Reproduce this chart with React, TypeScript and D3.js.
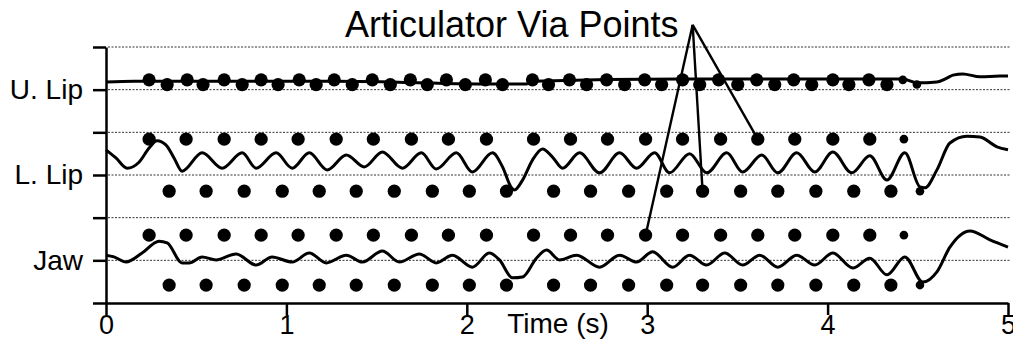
import { useEffect, useRef } from 'react';
import * as d3 from 'd3';

const W = 1013;
const H = 340;
const FONT = '"Liberation Sans", Arial, Helvetica, sans-serif';

// axes
const TIME_TICKS = [0, 1, 2, 3, 4, 5];
const ROW_TICKS = [0, 1, 2, 3, 4, 5, 6];
const ROW_LABELS: Record<number, string> = { 1: 'Jaw', 3: 'L. Lip', 5: 'U. Lip' };

// traces: [time (s), row position]
const U_LIP: [number, number][] = [
  [0, 5.18], [0.155, 5.2], [0.239, 5.2], [1.265, 5.2], [2.198, 5.13], [2.331, 5.13],
  [2.364, 5.2], [3.196, 5.25], [4.417, 5.25], [4.495, 5.16], [4.606, 5.18], [4.661, 5.27],
  [4.695, 5.34], [4.75, 5.37], [4.845, 5.3], [4.956, 5.32], [5.0, 5.32],
];

const L_LIP: [number, number][] = [
  [0, 3.59], [0.055, 3.4], [0.117, 3.16], [0.183, 3.3], [0.239, 3.63], [0.283, 3.8],
  [0.333, 3.7], [0.377, 3.4], [0.422, 3.09], [0.533, 3.52], [0.644, 3.16], [0.755, 3.52],
  [0.832, 3.16], [0.943, 3.52], [1.032, 3.16], [1.127, 3.52], [1.226, 3.12], [1.332, 3.47],
  [1.432, 3.19], [1.532, 3.54], [1.643, 3.16], [1.748, 3.52], [1.831, 3.14], [1.942, 3.52],
  [2.031, 3.07], [2.142, 3.52], [2.198, 3.19], [2.248, 2.7], [2.264, 2.65], [2.309, 2.88],
  [2.364, 3.35], [2.42, 3.61], [2.475, 3.42], [2.531, 3.16], [2.625, 3.52], [2.736, 3.05],
  [2.847, 3.52], [2.941, 3.16], [3.041, 3.52], [3.124, 3.05], [3.235, 3.5], [3.33, 3.05],
  [3.441, 3.52], [3.529, 3.07], [3.635, 3.47], [3.724, 3.05], [3.829, 3.52], [3.929, 3.07],
  [4.029, 3.54], [4.134, 3.05], [4.234, 3.45], [4.329, 2.88], [4.428, 3.52], [4.512, 2.72],
  [4.539, 2.7], [4.606, 3.12], [4.678, 3.75], [4.772, 3.91], [4.845, 3.89], [4.939, 3.66],
  [5.0, 3.59],
];

const JAW: [number, number][] = [
  [0, 1.12], [0.044, 1.08], [0.111, 0.96], [0.2, 1.17], [0.294, 1.45], [0.339, 1.41],
  [0.422, 0.94], [0.461, 0.94], [0.533, 1.08], [0.61, 1.01], [0.721, 1.15], [0.832, 0.89],
  [0.921, 1.08], [1.032, 0.96], [1.127, 1.17], [1.221, 0.94], [1.332, 1.12], [1.421, 0.96],
  [1.532, 1.22], [1.626, 0.96], [1.737, 1.15], [1.831, 0.94], [1.92, 1.12], [2.031, 0.84],
  [2.125, 1.17], [2.181, 1.01], [2.253, 0.59], [2.309, 0.61], [2.386, 1.05], [2.442, 1.24],
  [2.514, 1.01], [2.608, 1.12], [2.736, 0.84], [2.847, 1.12], [2.941, 0.96], [3.03, 1.2],
  [3.141, 0.84], [3.235, 1.12], [3.329, 0.89], [3.43, 1.17], [3.529, 0.89], [3.624, 1.12],
  [3.724, 0.84], [3.829, 1.12], [3.929, 0.89], [4.029, 1.17], [4.14, 0.82], [4.234, 1.05],
  [4.329, 0.66], [4.428, 1.08], [4.528, 0.49], [4.606, 0.73], [4.678, 1.31], [4.789, 1.69],
  [4.9, 1.48], [5.0, 1.31],
];

// via points (times in s); last one in each row is drawn smaller
const U_LIP_HIGH_T = [
  0.239, 0.45, 0.655, 0.86, 1.071, 1.265, 1.476, 1.687, 1.887, 2.103, 2.364,
  2.569, 2.775, 2.986, 3.196, 3.396, 3.607, 3.812, 4.029, 4.229, 4.417,
];
const U_LIP_LOW_T = [
  0.339, 0.538, 0.755, 0.954, 1.165, 1.365, 1.576, 1.781, 1.992, 2.198, 2.453,
  2.664, 2.875, 3.08, 3.291, 3.502, 3.707, 3.912, 4.118, 4.329, 4.495,
];
const UPPER_T = [
  0.239, 0.444, 0.655, 0.86, 1.065, 1.276, 1.482, 1.693, 1.898, 2.109, 2.37,
  2.575, 2.78, 2.991, 3.196, 3.407, 3.613, 3.818, 4.029, 4.234, 4.423,
];
const LOWER_T = [
  0.35, 0.555, 0.766, 0.977, 1.182, 1.387, 1.598, 1.809, 2.014, 2.22, 2.481,
  2.686, 2.897, 3.108, 3.307, 3.518, 3.724, 3.935, 4.145, 4.351, 4.512,
];

// row positions of each via point series
const DOT_ROWS = [
  { times: U_LIP_HIGH_T, level: 5.23 },
  { times: U_LIP_LOW_T, level: 5.12 },
  { times: UPPER_T, level: 3.84 },
  { times: LOWER_T, level: 2.62 },
  { times: UPPER_T, level: 1.59 },
  { times: LOWER_T, level: 0.42 },
];

// annotation: apex and the three dots it points at
const POINTER_APEX: [number, number] = [3.252, 6.52];
const POINTER_TARGETS: [number, number][] = [
  [UPPER_T[13], 1.59],
  [LOWER_T[14], 2.62],
  [UPPER_T[16], 3.84],
];

export default function App() {
  const svgRef = useRef<SVGSVGElement>(null);

  useEffect(() => {
    const svg = d3.select(svgRef.current);
    svg.selectAll('*').remove();

    const x = d3.scaleLinear().domain([0, 5]).range([106, 1008]);
    const y = d3.scaleLinear().domain([0, 6]).range([303, 47]);

    // dotted guide lines
    svg.append('g')
      .selectAll('line')
      .data(ROW_TICKS.filter((d) => d > 0))
      .join('line')
      .attr('x1', x(0) + 2)
      .attr('x2', x(5) + 2)
      .attr('y1', (d) => y(d))
      .attr('y2', (d) => y(d))
      .attr('stroke', '#333')
      .attr('stroke-width', 1)
      .attr('stroke-dasharray', '2 1.5');

    // x axis
    const xAxis = svg.append('g')
      .attr('transform', `translate(0,${y(0)})`)
      .call(d3.axisBottom(x).tickValues(TIME_TICKS).tickSize(12).tickSizeOuter(0).tickPadding(0).tickFormat(d3.format('d')));

    // y axis
    const yAxis = svg.append('g')
      .attr('transform', `translate(${x(0)},0)`)
      .call(d3.axisLeft(y).tickValues(ROW_TICKS).tickSize(13).tickSizeOuter(0).tickPadding(10)
        .tickFormat((d) => ROW_LABELS[d as number] ?? ''));

    [xAxis, yAxis].forEach((ax) => {
      ax.select('.domain').attr('stroke', '#000').attr('stroke-width', 2.5);
      ax.selectAll('.tick line').attr('stroke', '#000').attr('stroke-width', 2.5);
      ax.selectAll('.tick text')
        .attr('fill', '#000')
        .attr('font-size', 28)
        .attr('font-family', FONT);
    });
    xAxis.selectAll('.tick text').attr('font-size', 27);

    svg.append('text')
      .attr('x', 558)
      .attr('y', 333)
      .attr('text-anchor', 'middle')
      .attr('font-size', 28)
      .attr('font-family', FONT)
      .text('Time (s)');

    // traces
    const line = d3.line<[number, number]>()
      .x((d) => x(d[0]))
      .y((d) => y(d[1]))
      .curve(d3.curveMonotoneX);

    svg.append('g')
      .selectAll('path')
      .data([U_LIP, L_LIP, JAW])
      .join('path')
      .attr('d', (d) => line(d))
      .attr('fill', 'none')
      .attr('stroke', '#000')
      .attr('stroke-width', 3)
      .attr('stroke-linejoin', 'round');

    // via points
    DOT_ROWS.forEach((row) => {
      svg.append('g')
        .selectAll('circle')
        .data(row.times)
        .join('circle')
        .attr('cx', (t) => x(t))
        .attr('cy', y(row.level))
        .attr('r', (_, i) => (i === row.times.length - 1 ? 4.3 : 6.6))
        .attr('fill', '#000');
    });

    // annotation
    svg.append('g')
      .selectAll('line')
      .data(POINTER_TARGETS)
      .join('line')
      .attr('x1', x(POINTER_APEX[0]))
      .attr('y1', y(POINTER_APEX[1]))
      .attr('x2', (d) => x(d[0]))
      .attr('y2', (d) => y(d[1]))
      .attr('stroke', '#000')
      .attr('stroke-width', 2.4);

    svg.append('text')
      .attr('x', 345)
      .attr('y', 37)
      .attr('font-size', 36)
      .attr('font-family', FONT)
      .text('Articulator Via Points');
  }, []);

  return (
    <svg
      ref={svgRef}
      width={W}
      height={H}
      style={{ position: 'absolute', left: 0, top: 0, background: '#fff' }}
    />
  );
}
